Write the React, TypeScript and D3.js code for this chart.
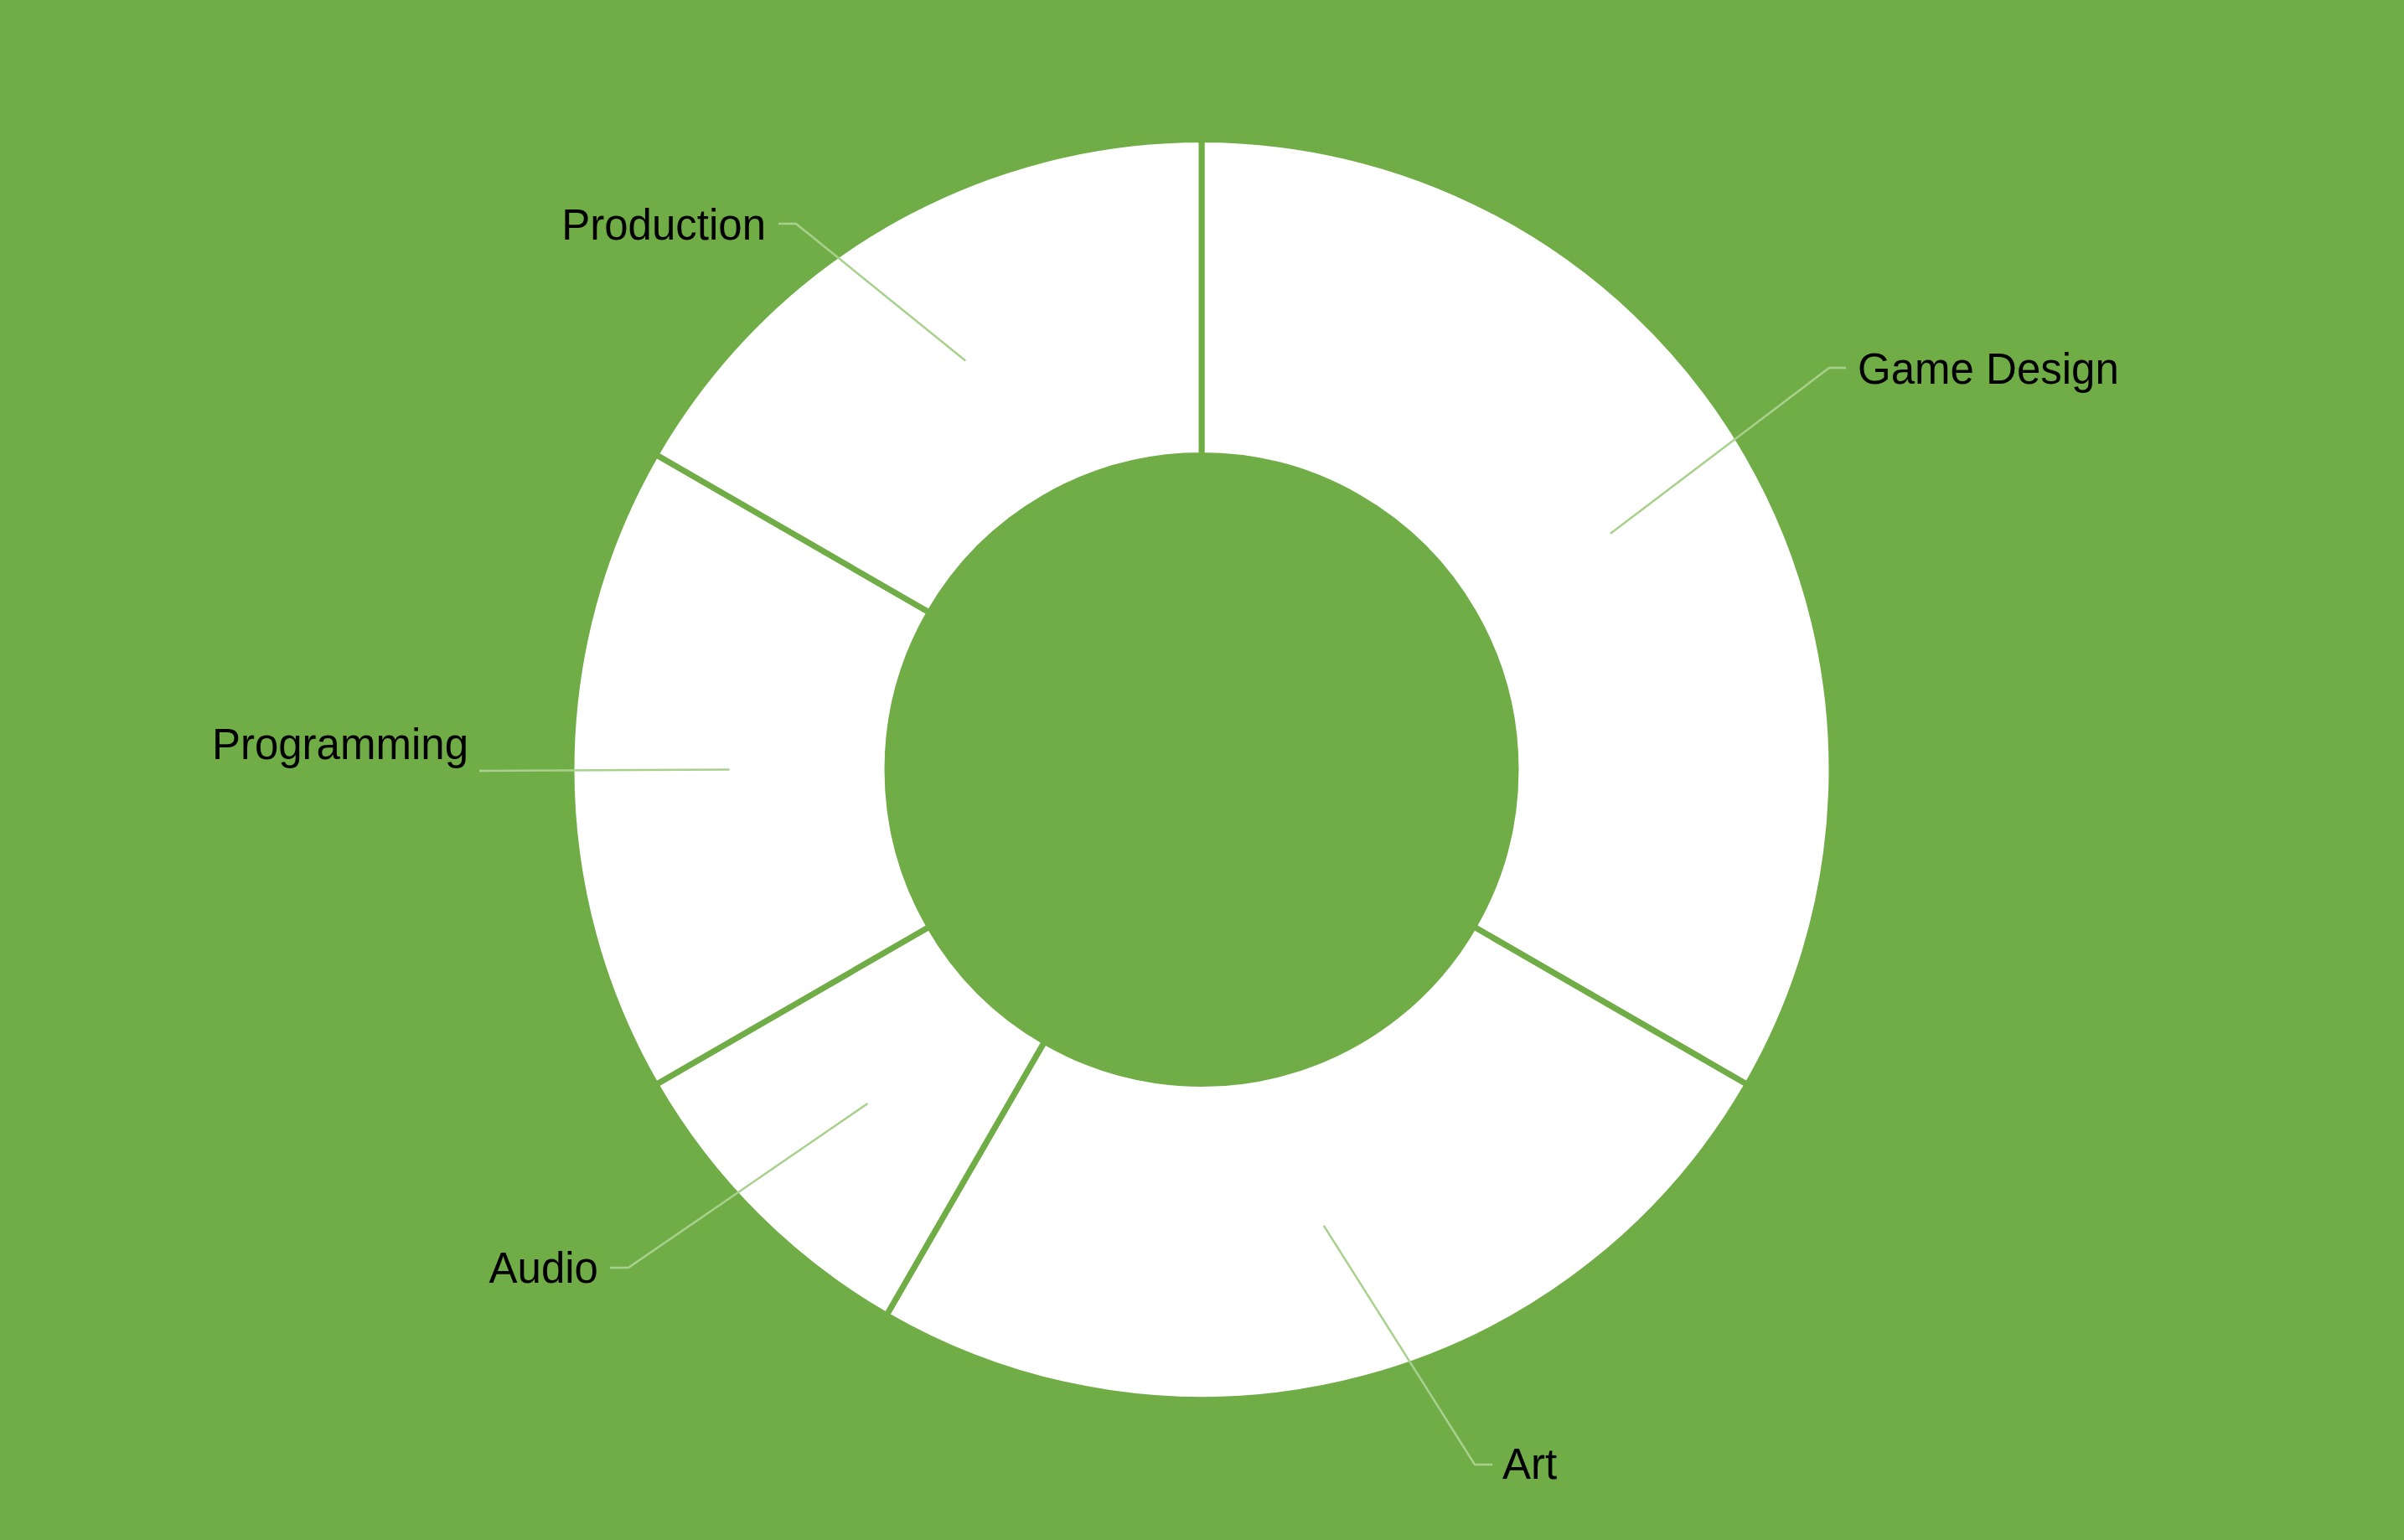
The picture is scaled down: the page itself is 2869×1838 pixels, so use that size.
import React from "react";
import * as d3 from "d3";

const categories = ["Game Design", "Art", "Audio", "Programming", "Production"];
const values = [4, 3, 1, 2, 2];

const W = 2869;
const H = 1838;
const CX = 1434;
const CY = 918.5;
const R_OUT = 752;
const R_IN = 375;
const BG = "#70AD47";
const LEADER = "#A9D18E";

// label layout (positions in px), keyed by category
const labelLayout: Record<string, { pts: [number, number][]; tx: number; ty: number; anchor: string }> = {
  "Game Design": { pts: [[2183, 439], [2203, 439]], tx: 2217, ty: 458, anchor: "start" },
  "Art": { pts: [[1760, 1748], [1781, 1748]], tx: 1793, ty: 1765, anchor: "start" },
  "Audio": { pts: [[750, 1513], [728, 1513]], tx: 714, ty: 1531, anchor: "end" },
  "Programming": { pts: [[572, 920]], tx: 559, ty: 906, anchor: "end" },
  "Production": { pts: [[950, 267], [929, 267]], tx: 914, ty: 286, anchor: "end" },
};

export default function App() {
  const data = categories.map((c, i) => ({ name: c, value: values[i] }));
  const pie = d3.pie<{ name: string; value: number }>().value((d) => d.value).sort(null);
  const arcs = pie(data);
  const arc = d3.arc<d3.PieArcDatum<{ name: string; value: number }>>().innerRadius(R_IN).outerRadius(R_OUT);
  const mid = d3.arc<d3.PieArcDatum<{ name: string; value: number }>>()
    .innerRadius((R_IN + R_OUT) / 2 + 0)
    .outerRadius((R_IN + R_OUT) / 2 + 0);
  const line = d3.line();

  return (
    <svg width={W} height={H} style={{ position: "absolute", left: 0, top: 0, display: "block" }}>
      <rect x={0} y={0} width={W} height={H} fill={BG} />
      <g transform={`translate(${CX},${CY})`}>
        {arcs.map((a) => (
          <path key={a.data.name} d={arc(a) || ""} fill="#FFFFFF" stroke={BG} strokeWidth={7} strokeLinejoin="miter" />
        ))}
      </g>
      {arcs.map((a) => {
        const [mx, my] = mid.centroid(a);
        const lay = labelLayout[a.data.name];
        const pts: [number, number][] = [[CX + mx, CY + my], ...lay.pts];
        return (
          <g key={"l" + a.data.name}>
            <path d={line(pts) || ""} fill="none" stroke={LEADER} strokeWidth={2.5} />
            <text
              x={lay.tx}
              y={lay.ty}
              textAnchor={lay.anchor as any}
              fontFamily="'Liberation Sans', Arial, sans-serif"
              fontSize={51}
              fill="#000000"
            >
              {a.data.name}
            </text>
          </g>
        );
      })}
    </svg>
  );
}
